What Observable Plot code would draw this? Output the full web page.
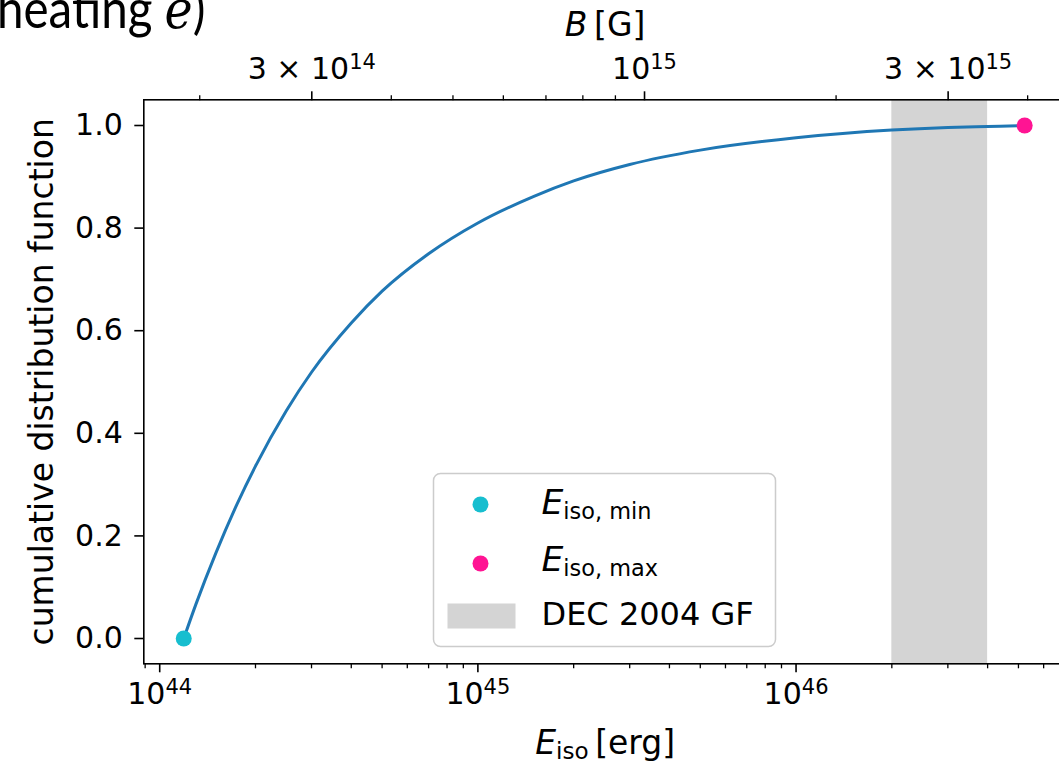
<!DOCTYPE html>
<html><head><meta charset="utf-8">
<script src="https://cdn.jsdelivr.net/npm/d3@7"></script>
<script src="https://cdn.jsdelivr.net/npm/@observablehq/plot@0.6"></script>
<style>
html,body{margin:0;padding:0;overflow:hidden;background:#fff;width:1059px;height:765px}
#wrap{position:relative;width:1059px;height:765px;overflow:hidden}
#wrap svg{position:absolute;left:0;top:0;max-width:none !important}
#overlay{pointer-events:none}
</style></head>
<body><div id="wrap"></div>
<script>
// ---- data ----
const energy = [1.19e44, 1.3e44, 1.5e44, 1.75e44, 2e44, 2.5e44, 3e44, 4e44, 5e44, 7e44,
                1e45, 1.5e45, 2e45, 3e45, 5e45, 1e46, 2e46, 3e46, 4e46, 5.23e46];
const cdf    = [0.000, 0.067, 0.166, 0.262, 0.336, 0.444, 0.519, 0.615, 0.677, 0.750,
                0.810, 0.862, 0.892, 0.924, 0.952, 0.976, 0.991, 0.996, 0.998, 1.000];

const pointLabels = [["E", "iso, min"], ["E", "iso, max"]];
const pointEnergy = [1.19e44, 5.23e46];
const pointCdf    = [0.0, 1.0];
const pointColors = ["#17becf", "#ff1493"];

const gfLabel = "DEC 2004 GF";
const gfRange = [2e46, 4e46];
const gfColor = "#d4d4d4";

const lineColor = "#1f77b4";

const xMajorTicks = [1e44, 1e45, 1e46];
const xMinorTicks = [9e43, 2e44, 3e44, 4e44, 5e44, 6e44, 7e44, 8e44, 9e44,
                     2e45, 3e45, 4e45, 5e45, 6e45, 7e45, 8e45, 9e45,
                     2e46, 3e46, 4e46, 5e46, 6e46];
const yTicks = [0, 0.2, 0.4, 0.6, 0.8, 1.0];

// top axis: magnetic field B, B ∝ sqrt(E_iso); E at B = 1e15 G
const bRefE = 3.34e45;
const bMajorTicks = [3e14, 1e15, 3e15];
const bMajorLabels = ["3 × 10^14", "10^15", "3 × 10^15"];
const bMinorTicks = [2e14, 4e14, 5e14, 6e14, 7e14, 8e14, 9e14, 2e15, 4e15];

const xLabel = "E_iso [erg]";
const topLabel = "B [G]";
const yLabel = "cumulative distribution function";
const titleFragment = "heating ";

// ---- build ----
const bToE = b => bRefE * (b / 1e15) ** 2;
const bLabelByE = new Map(bMajorTicks.map((b, i) => [bToE(b), bMajorLabels[i]]));
const curveData = energy.map((e, i) => ({e, p: cdf[i]}));
const pointData = pointEnergy.map((e, i) => ({e, p: pointCdf[i], color: pointColors[i]}));
const gfData = [{x1: gfRange[0], x2: gfRange[1]}];

const FONT = "DejaVu Sans";
const chart = Plot.plot({
  width: 1066, height: 765,
  marginLeft: 143.3, marginRight: 0, marginTop: 99.3, marginBottom: 101.7,
  style: {fontFamily: FONT, fontSize: "30px", color: "#000", background: "transparent", overflow: "visible"},
  x: {type: "log", domain: [10 ** 43.95, 10 ** 46.85]},
  y: {domain: [-0.0493, 1.0501]},
  marks: [
    Plot.rect(gfData, {x1: "x1", x2: "x2", fill: gfColor}),
    Plot.line(curveData, {x: "e", y: "p", stroke: lineColor, strokeWidth: 3, curve: "monotone-x"}),
    Plot.dot(pointData, {x: "e", y: "p", fill: "color", r: 8}),
    Plot.frame({stroke: "#000", strokeWidth: 1.6}),
    Plot.axisY(yTicks, {tickSize: 9, tickPadding: 12, strokeWidth: 1.6, tickFormat: d => d.toFixed(1), label: null, fontSize: 30}),
    Plot.axisX(xMajorTicks, {anchor: "bottom", tickSize: 9, tickPadding: 10, strokeWidth: 1.6,
      tickFormat: d => "10^" + Math.round(Math.log10(d)), label: null, fontSize: 30}),
    Plot.axisX(xMinorTicks, {anchor: "bottom", tickSize: 5, strokeWidth: 1.3, tickFormat: () => "", label: null}),
    Plot.axisX(bMajorTicks.map(bToE), {anchor: "top", tickSize: 9, tickPadding: 12, strokeWidth: 1.6,
      tickFormat: e => bLabelByE.get(e), label: null, fontSize: 30}),
    Plot.axisX(bMinorTicks.map(bToE), {anchor: "top", tickSize: 5, strokeWidth: 1.3, tickFormat: () => "", label: null}),
    Plot.text([topLabel], {text: d => d, frameAnchor: "top", lineAnchor: "bottom", dy: -64.3, fontSize: 33}),
    Plot.text([xLabel], {text: d => d, frameAnchor: "bottom", lineAnchor: "bottom", dy: 89.7, fontSize: 33}),
    Plot.text([yLabel], {text: d => d, frameAnchor: "left", textAnchor: "middle", lineAnchor: "bottom", rotate: -90, dx: -91, fontSize: 33})
  ]
});

// math-style formatting of labels (superscripts, italics, subscripts)
function mathify(el) {
  const s = el.textContent;
  const sel = d3.select(el);
  let m = s.match(/^(.*)10\^(\d+)$/);
  if (m) {
    sel.text(null);
    sel.append("tspan").text(m[1] + "10");
    sel.append("tspan").attr("font-size", "0.7em").attr("dy", "-0.48em").text(m[2]);
    return;
  }
  m = s.match(/^(\w)_(\w+) (.*)$/);
  if (m) {
    sel.text(null);
    sel.append("tspan").attr("font-style", "italic").text(m[1]);
    sel.append("tspan").attr("font-size", "0.7em").attr("dy", "0.25em").text(m[2]);
    sel.append("tspan").attr("dy", "-0.175em").text("\u2009" + m[3]);
    return;
  }
  m = s.match(/^(\w) (\[.*\])$/);
  if (m) {
    sel.text(null);
    sel.append("tspan").attr("font-style", "italic").text(m[1]);
    sel.append("tspan").text("\u2009" + m[2]);
  }
}
d3.select(chart).selectAll("text").each(function () { mathify(this); });

const wrap = document.getElementById("wrap");
wrap.appendChild(chart);

// ---- legend + cropped slide title (overlay) ----
const ov = d3.create("svg").attr("id", "overlay").attr("width", 1059).attr("height", 765)
  .attr("font-family", FONT);
ov.append("text").attr("transform", "translate(-3,28) scale(0.88,1)").attr("font-family", "Lato").attr("font-size", 54)
  .call(t => { t.append("tspan").text(titleFragment);
               t.append("tspan").attr("font-family", "DejaVu Serif").attr("font-style", "italic").text("e");
               t.append("tspan").text(")"); });

const lg = ov.append("g").attr("transform", "translate(433.5,473.5)");
lg.append("rect").attr("width", 342).attr("height", 173).attr("rx", 7)
  .attr("fill", "#fff").attr("fill-opacity", 0.8).attr("stroke", "#cccccc").attr("stroke-width", 1.5);
const rowBase = [40, 97];
const rowDot = [31, 90];
pointLabels.forEach((lab, i) => {
  lg.append("circle").attr("cx", 47).attr("cy", rowDot[i]).attr("r", 8).attr("fill", pointColors[i]);
  const t = lg.append("text").attr("x", 108).attr("y", rowBase[i]).attr("font-size", 32);
  t.append("tspan").attr("font-style", "italic").attr("font-size", "1.08em").text(lab[0]);
  t.append("tspan").attr("font-size", "0.7em").attr("dy", "0.25em").text(lab[1]);
});
lg.append("rect").attr("x", 14).attr("y", 130).attr("width", 68).attr("height", 25).attr("fill", gfColor);
lg.append("text").attr("x", 108).attr("y", 151).attr("font-size", 32).text(gfLabel);
wrap.appendChild(ov.node());
</script>
</body></html>
